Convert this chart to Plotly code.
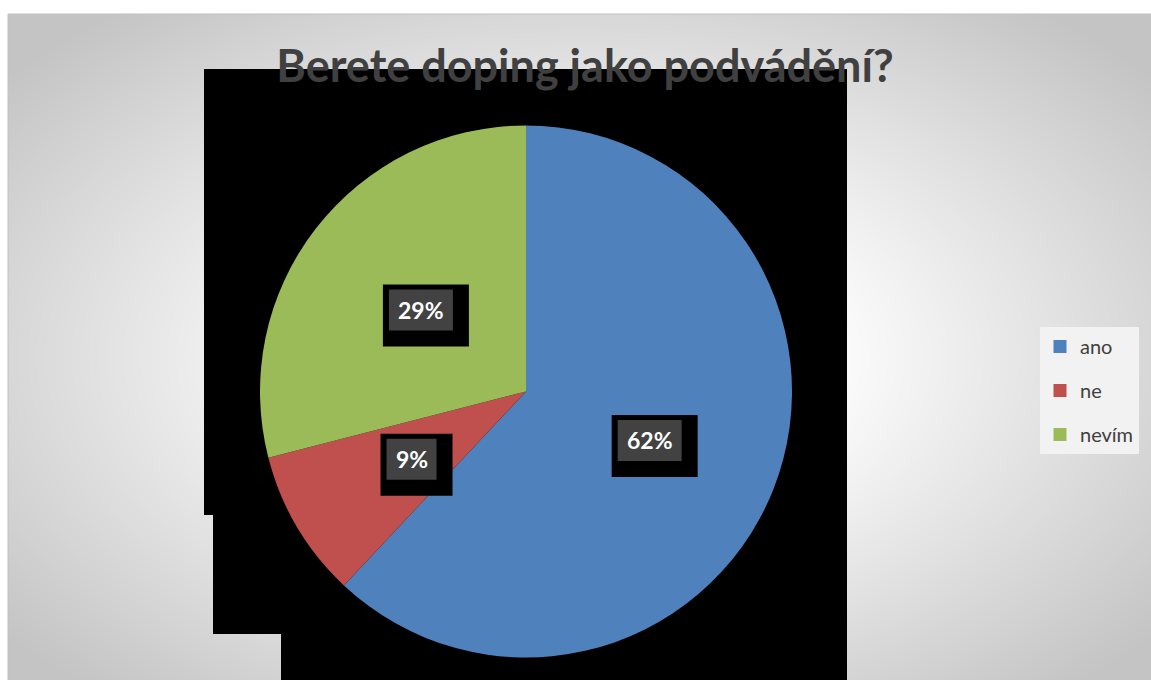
import base64, struct, zlib, math
import numpy as np
import plotly.graph_objects as go

# ---- data ----
labels = ["ano", "ne", "nevím"]
values = [62, 9, 29]
colors = ["#4F81BD", "#C0504D", "#9BBB59"]
title_text = "Berete doping jako podvádění?"

W, H = 1151, 680

def px(x):
    return x / W

def py(y):
    return 1 - y / H

# ---- background radial gradient image ----
def make_png(arr):
    h, w = arr.shape
    raw = b"".join(b"\x00" + arr[i].tobytes() for i in range(h))
    def chunk(t, d):
        c = struct.pack(">I", len(d)) + t + d
        return c + struct.pack(">I", zlib.crc32(t + d) & 0xffffffff)
    png = b"\x89PNG\r\n\x1a\n"
    png += chunk(b"IHDR", struct.pack(">IIBBBBB", w, h, 8, 0, 0, 0, 0))
    png += chunk(b"IDAT", zlib.compress(raw, 9))
    png += chunk(b"IEND", b"")
    return "data:image/png;base64," + base64.b64encode(png).decode()

x0, y0, x1, y1 = 8, 14, 1151, 680
xs = np.arange(x0, x1) + 0.5
ys = np.arange(y0, y1) + 0.5
XX, YY = np.meshgrid(xs, ys)
cx, cy, hx, hy = 580, 357, 572, 343
r = np.sqrt(((XX - cx) / hx) ** 2 + ((YY - cy) / hy) ** 2)
t = np.clip((r - 0.4) / 0.9, 0, 1)
g = (255 - (255 - 196) * t).astype(np.uint8)
bg_src = make_png(g)

# ---- pie geometry ----
pcx, pcy, pr = 526, 391.5, 266

fig = go.Figure()
fig.add_trace(go.Pie(
    labels=labels, values=values, sort=False, direction="clockwise", rotation=0,
    marker=dict(colors=colors, line=dict(width=0)),
    textinfo="none", hoverinfo="label+percent", showlegend=False,
    domain=dict(x=[px(pcx - pr), px(pcx + pr)], y=[py(pcy + pr), py(pcy - pr)]),
))

# legend entries
for lab, col in zip(labels, colors):
    fig.add_trace(go.Scatter(
        x=[None], y=[None], mode="markers", name=lab, legendgroup=lab,
        marker=dict(symbol="square", size=13, color=col),
    ))

shapes = []
# black artifact polygon behind pie
poly = [(204, 69), (847, 69), (847, 680), (281, 680), (281, 634), (213, 634), (213, 515), (204, 515)]
path = "M " + " L ".join(f"{px(a)},{py(b)}" for a, b in poly) + " Z"
shapes.append(dict(type="path", path=path, xref="paper", yref="paper",
                   fillcolor="black", line=dict(width=0), layer="below"))
# chart border
shapes.append(dict(type="rect", xref="paper", yref="paper", x0=px(8), x1=px(1160), y0=py(14), y1=py(690),
                   line=dict(color="#bfbfbf", width=1), fillcolor="rgba(0,0,0,0)", layer="below"))

annotations = []
total = sum(values)
cum = 0
for v in values:
    mid = (cum + v / 2) / total * 2 * math.pi
    cum += v
    lx = pcx + 0.5 * pr * math.sin(mid)
    ly = pcy - 0.5 * pr * math.cos(mid)
    txt = f"{round(v / total * 100)}%"
    bw = 22 + 14 * len(txt)
    bh = 41
    # black box
    shapes.append(dict(type="rect", xref="paper", yref="paper",
                       x0=px(lx - bw / 2 - 6), x1=px(lx + bw / 2 + 16),
                       y0=py(ly + bh / 2 + 16), y1=py(ly - bh / 2 - 5),
                       fillcolor="black", line=dict(width=0), layer="above"))
    # grey inner box
    shapes.append(dict(type="rect", xref="paper", yref="paper",
                       x0=px(lx - bw / 2), x1=px(lx + bw / 2),
                       y0=py(ly + bh / 2), y1=py(ly - bh / 2),
                       fillcolor="#424242", line=dict(width=0), layer="above"))
    annotations.append(dict(x=px(lx), y=py(ly), xref="paper", yref="paper", text=f"<b>{txt}</b>",
                            showarrow=False, xanchor="center", yanchor="middle",
                            font=dict(family="Lato", size=23, color="white")))

fig.update_layout(
    width=W, height=H, margin=dict(l=0, r=0, t=0, b=0),
    paper_bgcolor="white", plot_bgcolor="rgba(0,0,0,0)",
    xaxis=dict(visible=False), yaxis=dict(visible=False),
    title=dict(text=f"<b>{title_text}</b>", x=px(585), y=1 - 66 / H, xanchor="center", yanchor="middle",
               xref="paper", yref="container",
               font=dict(family="Lato", size=45, color="#404040")),
    images=[dict(source=bg_src, xref="paper", yref="paper", x=px(x0), y=py(y0),
                 sizex=px(x1) - px(x0), sizey=py(y0) - py(y1), sizing="stretch",
                 xanchor="left", yanchor="top", layer="below")],
    shapes=shapes, annotations=annotations,
    legend=dict(x=px(1040), y=py(327), xanchor="left", yanchor="top",
                bgcolor="#F2F2F2", borderwidth=0, tracegroupgap=15,
                font=dict(family="Lato", size=20, color="#404040"),
                itemwidth=30),
    showlegend=True,
)

fig.write_html("out.html", config={"displayModeBar": False},
               post_script="document.body.style.margin='0';document.documentElement.style.overflow='hidden';")
